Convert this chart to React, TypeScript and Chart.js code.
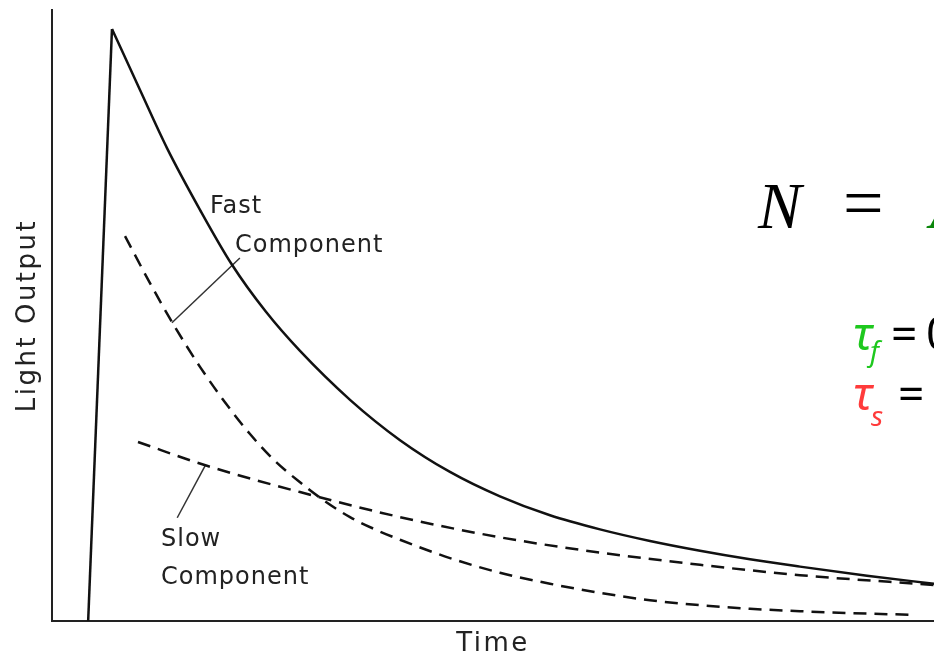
import React, { useEffect, useRef } from "react";
import { Chart, registerables } from "chart.js";

Chart.register(...registerables);

// Time axis (arbitrary units 0..100) and light output (arbitrary units 0..100)
const riseTime = [4.1, 6.8];
const riseLight = [0, 96.9];

const totalTime = [6.8, 9.98, 13.04, 16.78, 20.41, 24.26, 28.12, 33.79, 39.46, 45.12, 50.79, 56.46, 62.13, 67.8, 73.47, 79.14, 84.81, 92.4, 100];
const totalLight = [96.9, 86.9, 77.4, 67.3, 58.3, 50.6, 44.2, 36.2, 29.6, 24.4, 20.4, 17.3, 15.0, 13.1, 11.5, 10.1, 8.9, 7.4, 6.1];

const fastTime = [8.28, 11.11, 13.95, 16.78, 19.61, 22.45, 25.28, 28.12, 30.95, 33.79, 36.62, 39.46, 45.12, 50.79, 56.46, 62.13, 67.8, 73.47, 79.14, 84.81, 90.48, 97.85];
const fastLight = [63.0, 55.3, 48.1, 41.6, 35.8, 30.6, 26.2, 22.7, 19.6, 17.0, 15.0, 13.3, 10.3, 7.9, 6.1, 4.6, 3.4, 2.6, 2.0, 1.6, 1.3, 1.0];

const slowTime = [9.75, 17.57, 28.12, 39.46, 50.79, 62.13, 73.47, 84.81, 100];
const slowLight = [29.3, 25.4, 21.1, 17.0, 13.7, 11.2, 9.2, 7.5, 5.9];

const fastPointerTime = [13.6, 21.3];
const fastPointerLight = [48.8, 59.4];
const slowPointerTime = [17.4, 14.2];
const slowPointerLight = [25.5, 16.9];

const xTitle = "Time";
const yTitle = "Light Output";
const fastLabel = ["Fast", "Component"];
const slowLabel = ["Slow", "Component"];

const pts = (xs: number[], ys: number[]) => xs.map((x, i) => ({ x, y: ys[i] }));

const annotationPlugin = {
  id: "annotations",
  beforeDraw(chart: any) {
    chart.ctx.letterSpacing = "2.5px";
  },
  afterDraw(chart: any) {
    const ctx = chart.ctx as CanvasRenderingContext2D;
    ctx.save();
    ctx.textAlign = "left";
    ctx.textBaseline = "alphabetic";
    // curve labels
    (ctx as any).letterSpacing = "1px";
    ctx.fillStyle = "#222";
    ctx.font = '24px "DejaVu Sans"';
    ctx.fillText(fastLabel[0], 210, 213);
    ctx.fillText(fastLabel[1], 235, 252);
    ctx.fillText(slowLabel[0], 161, 546);
    ctx.fillText(slowLabel[1], 161, 584);

    (ctx as any).letterSpacing = "0px";
    // formula N = A...
    ctx.fillStyle = "#000";
    ctx.font = 'italic 65px "Liberation Serif"';
    ctx.fillText("N", 758, 228);
    ctx.font = '72px "Liberation Serif"';
    ctx.fillText("=", 843, 227);
    ctx.fillStyle = "#0b860b";
    ctx.font = 'italic 65px "Liberation Serif"';
    ctx.fillText("A", 930, 228);

    // tau_f
    ctx.fillStyle = "#1ec81e";
    ctx.font = 'italic 46px "Noto Sans"';
    ctx.fillText("τ", 853, 350);
    ctx.font = 'italic 28px "Noto Sans"';
    ctx.fillText("f", 870, 361);
    ctx.fillStyle = "#000";
    ctx.font = '46px "Noto Sans"';
    ctx.fillText("=", 891, 350);
    ctx.fillText("0", 926, 350);

    // tau_s
    ctx.fillStyle = "#ff3b3b";
    ctx.font = 'italic 46px "Noto Sans"';
    ctx.fillText("τ", 853, 410);
    ctx.font = 'italic 28px "Noto Sans"';
    ctx.fillText("s", 871, 426);
    ctx.fillStyle = "#000";
    ctx.font = '46px "Noto Sans"';
    ctx.fillText("=", 898, 410);
    ctx.restore();
  },
};

export default function App() {
  const ref = useRef<HTMLCanvasElement | null>(null);

  useEffect(() => {
    if (!ref.current) return;
    const solid = {
      borderColor: "#111",
      borderWidth: 2.5,
      pointRadius: 0,
      fill: false,
    };
    const dashed = {
      borderColor: "#111",
      borderWidth: 2.5,
      borderDash: [13, 8],
      pointRadius: 0,
      fill: false,
      cubicInterpolationMode: "monotone" as const,
    };
    const pointer = {
      borderColor: "#333",
      borderWidth: 1.5,
      pointRadius: 0,
      fill: false,
    };
    const chart = new Chart(ref.current, {
      type: "line",
      data: {
        datasets: [
          { label: "Rise", data: pts(riseTime, riseLight), ...solid },
          { label: "Total", data: pts(totalTime, totalLight), ...solid, cubicInterpolationMode: "monotone" },
          { label: "Fast Component", data: pts(fastTime, fastLight), ...dashed },
          { label: "Slow Component", data: pts(slowTime, slowLight), ...dashed },
          { label: "Fast pointer", data: pts(fastPointerTime, fastPointerLight), ...pointer },
          { label: "Slow pointer", data: pts(slowPointerTime, slowPointerLight), ...pointer },
        ] as any,
      },
      options: {
        animation: false,
        responsive: false,
        events: [],
        layout: { padding: { left: 0, right: 0, top: 10, bottom: 0 } },
        plugins: { legend: { display: false }, tooltip: { enabled: false } },
        scales: {
          x: {
            type: "linear",
            min: 0,
            max: 100,
            grid: { display: false, drawTicks: false },
            ticks: { display: false },
            border: { display: true, color: "#222", width: 2 },
            title: {
              display: true,
              text: xTitle,
              color: "#222",
              font: { family: "DejaVu Sans", size: 26, lineHeight: 1 },
              padding: { top: 10, bottom: 2 },
            },
          },
          y: {
            type: "linear",
            min: 0,
            max: 100,
            grid: { display: false, drawTicks: false },
            ticks: { display: false },
            border: { display: true, color: "#222", width: 2 },
            title: {
              display: true,
              text: yTitle,
              color: "#222",
              font: { family: "DejaVu Sans", size: 26, lineHeight: 1 },
              padding: { top: 15, bottom: 11 },
            },
          },
        },
      },
      plugins: [annotationPlugin],
    });
    return () => chart.destroy();
  }, []);

  return (
    <div style={{ position: "fixed", left: 0, top: 0, width: 934, height: 659, background: "#fff" }}>
      <canvas ref={ref} width={934} height={659} style={{ width: 934, height: 659, display: "block" }} />
    </div>
  );
}
